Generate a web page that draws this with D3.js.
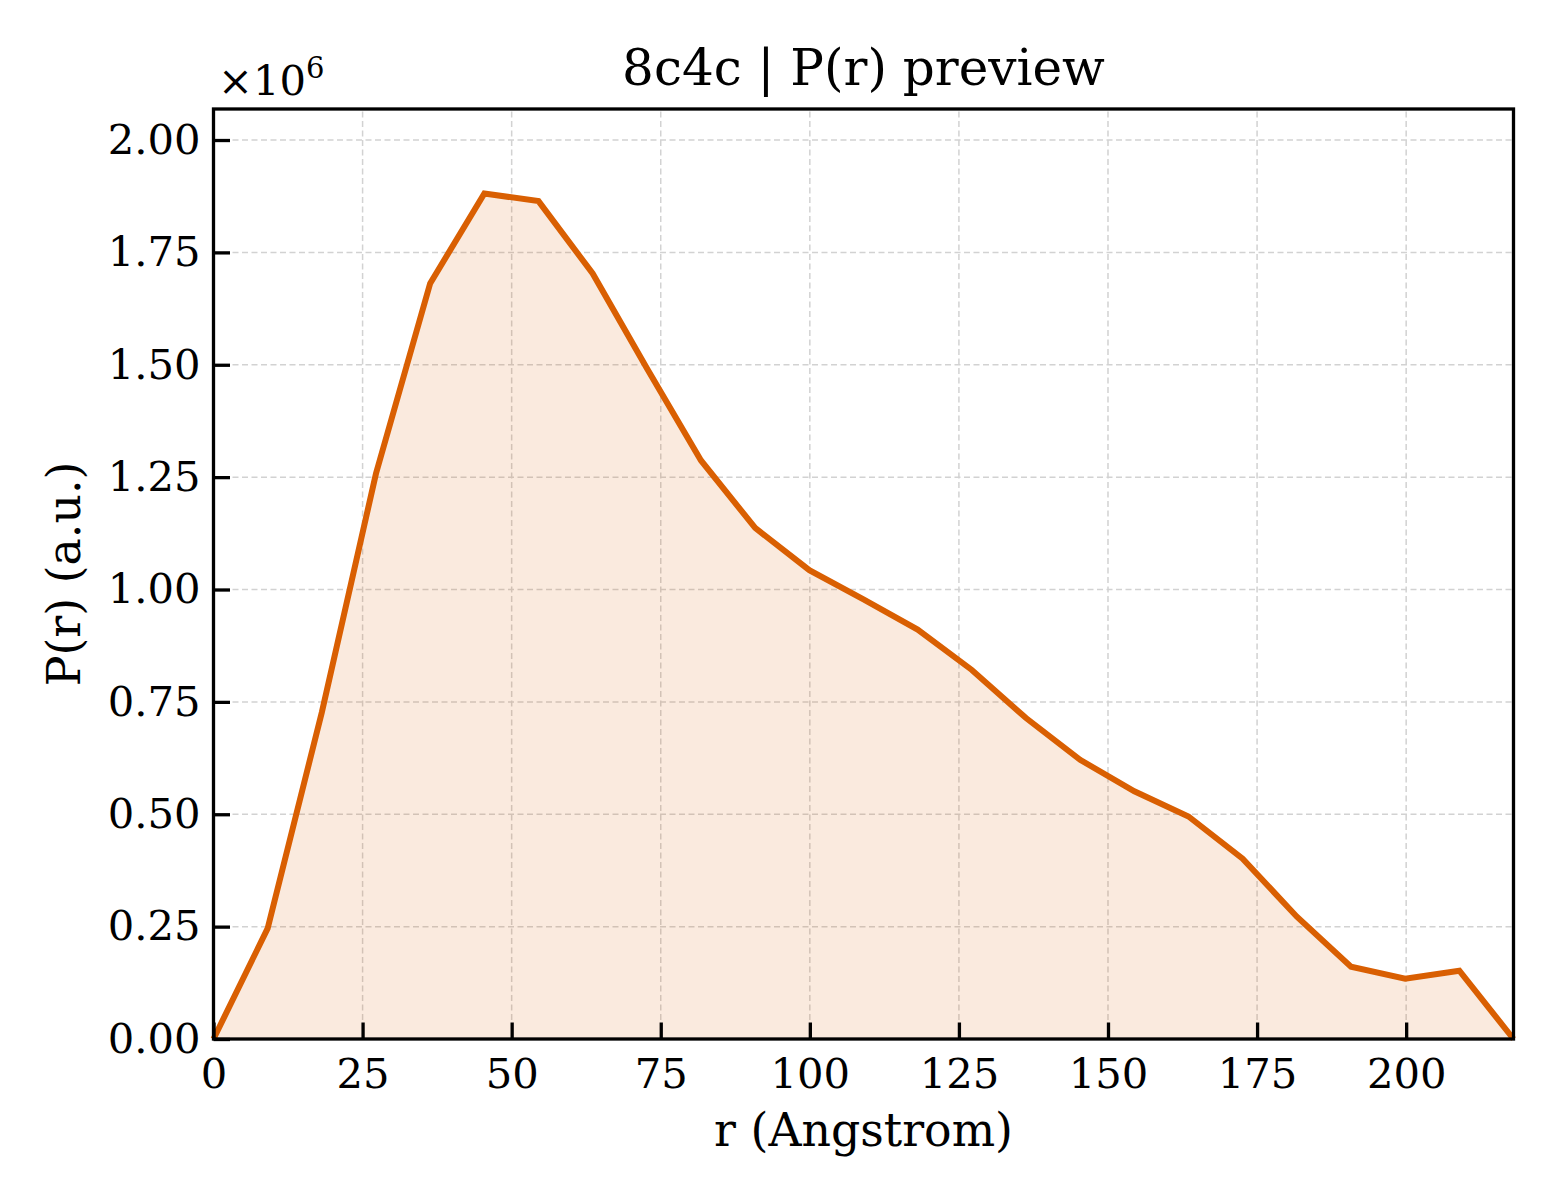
<!DOCTYPE html>
<html>
<head>
<meta charset="utf-8">
<script src="https://cdn.jsdelivr.net/npm/d3@7"></script>
<style>
  body { margin: 0; background: #fff; }
  svg { font-family: "DejaVu Serif", serif; }
</style>
</head>
<body>
<svg id="chart" width="1560" height="1200"></svg>
<script>
// r in Angstrom, P(r) in units of 1e6
const rValues = [0, 9.08, 18.17, 27.25, 36.33, 45.42, 54.5, 63.58, 72.67, 81.75,
  90.83, 99.92, 109, 118.08, 127.17, 136.25, 145.33, 154.42, 163.5, 172.58,
  181.67, 190.75, 199.83, 208.92, 218];
const prValues = [0, 0.246, 0.727, 1.258, 1.681, 1.881, 1.864, 1.703, 1.492, 1.287,
  1.137, 1.043, 0.978, 0.911, 0.821, 0.714, 0.621, 0.551, 0.495, 0.401,
  0.272, 0.161, 0.134, 0.152, 0];
const xTicks = [0, 25, 50, 75, 100, 125, 150, 175, 200];
const yTicks = [0, 0.25, 0.5, 0.75, 1.0, 1.25, 1.5, 1.75, 2.0];

const data = rValues.map((r, i) => ({ r, p: prValues[i] }));

const svg = d3.select("#chart");
const padding = { left: 213.5, right: 46.5, top: 109, bottom: 161 };
const width = 1560, height = 1200;
const lineColor = "#d95f02";

const x = d3.scaleLinear()
  .domain([0, 218])
  .range([padding.left, width - padding.right]);
const y = d3.scaleLinear()
  .domain([0, 2.069])
  .range([height - padding.bottom, padding.top]);

// grid
const grid = svg.append("g").attr("class", "grid")
  .attr("stroke", "#d2d2d2").attr("stroke-width", 1.5)
  .attr("stroke-dasharray", "6,3.5");
grid.selectAll("line.gx").data(xTicks.slice(1)).join("line")
  .attr("x1", d => x(d)).attr("x2", d => x(d))
  .attr("y1", y.range()[0]).attr("y2", y.range()[1]);
grid.selectAll("line.gy").data(yTicks.slice(1)).join("line")
  .attr("y1", d => y(d)).attr("y2", d => y(d))
  .attr("x1", x.range()[0]).attr("x2", x.range()[1]);

// area + line
svg.append("path").datum(data)
  .attr("fill", lineColor).attr("fill-opacity", 0.13)
  .attr("d", d3.area().x(d => x(d.r)).y0(y(0)).y1(d => y(d.p)));
svg.append("path").datum(data)
  .attr("fill", "none").attr("stroke", lineColor)
  .attr("stroke-width", 6).attr("stroke-linejoin", "miter")
  .attr("d", d3.line().x(d => x(d.r)).y(d => y(d.p)));

// axes
const xAxis = (g) =>
  g.attr("transform", `translate(0,${height - padding.bottom})`)
    .call(d3.axisBottom(x).tickValues(xTicks).tickFormat(d3.format("d"))
      .tickSizeInner(-16.5).tickSizeOuter(0).tickPadding(19))
    .call((g) => g.select(".domain").remove());
const yAxis = (g) =>
  g.attr("transform", `translate(${padding.left},0)`)
    .call(d3.axisLeft(y).tickValues(yTicks).tickFormat(d3.format(".2f"))
      .tickSizeInner(-16.5).tickSizeOuter(0).tickPadding(13))
    .call((g) => g.select(".domain").remove());

svg.append("g").attr("class", "x-axis").call(xAxis);
svg.append("g").attr("class", "y-axis").call(yAxis);
svg.selectAll(".x-axis text, .y-axis text")
  .attr("font-family", "DejaVu Serif").attr("font-size", 41.7).attr("fill", "#000");
svg.selectAll(".x-axis line, .y-axis line")
  .attr("stroke", "#000").attr("stroke-width", 3.3);

// frame
svg.append("rect")
  .attr("x", x.range()[0]).attr("y", y.range()[1])
  .attr("width", x.range()[1] - x.range()[0])
  .attr("height", y.range()[0] - y.range()[1])
  .attr("fill", "none").attr("stroke", "#000").attr("stroke-width", 3.3);

// labels
svg.append("text")
  .attr("x", (x.range()[0] + x.range()[1]) / 2).attr("y", 85)
  .attr("text-anchor", "middle").attr("font-size", 50)
  .text("8c4c | P(r) preview");
svg.append("text")
  .attr("x", (x.range()[0] + x.range()[1]) / 2).attr("y", 1146)
  .attr("text-anchor", "middle").attr("font-size", 45.8)
  .text("r (Angstrom)");
svg.append("text")
  .attr("transform", `translate(80,${(y.range()[0] + y.range()[1]) / 2}) rotate(-90)`)
  .attr("text-anchor", "middle").attr("font-size", 45.8)
  .text("P(r) (a.u.)");

const offset = svg.append("text")
  .attr("x", 218).attr("y", 95).attr("font-size", 41.7);
offset.append("tspan").text("×10");
offset.append("tspan").attr("dy", -17).attr("font-size", 29).text("6");
</script>
</body>
</html>
